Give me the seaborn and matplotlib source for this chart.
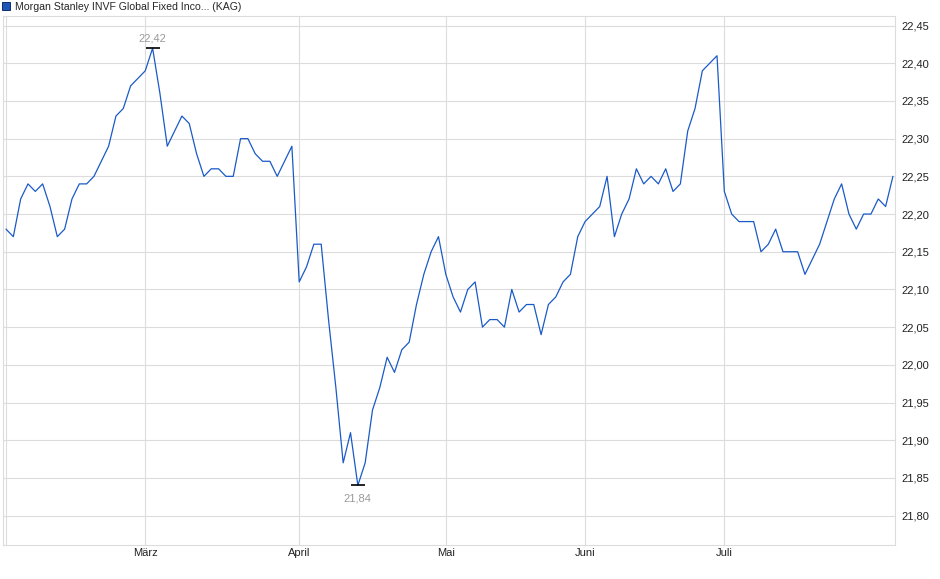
import numpy as np
import pandas as pd
import matplotlib.pyplot as plt
import seaborn as sns
from matplotlib.patches import Patch

# Fund price series (trading days, Feb - Jul)
fund_name = "Morgan Stanley INVF Global Fixed Inco... (KAG)"
prices = [
    22.18, 22.17, 22.22, 22.24, 22.23, 22.24, 22.21, 22.17, 22.18, 22.22,
    22.24, 22.24, 22.25, 22.27, 22.29, 22.33, 22.34, 22.37, 22.38, 22.39,
    22.42, 22.36, 22.29, 22.31, 22.33, 22.32, 22.28, 22.25, 22.26, 22.26,
    22.25, 22.25, 22.30, 22.30, 22.28, 22.27, 22.27, 22.25, 22.27, 22.29,
    22.11, 22.13, 22.16, 22.16, 22.06, 21.97, 21.87, 21.91, 21.84, 21.87,
    21.94, 21.97, 22.01, 21.99, 22.02, 22.03, 22.08, 22.12, 22.15, 22.17,
    22.12, 22.09, 22.07, 22.10, 22.11, 22.05, 22.06, 22.06, 22.05, 22.10,
    22.07, 22.08, 22.08, 22.04, 22.08, 22.09, 22.11, 22.12, 22.17, 22.19,
    22.20, 22.21, 22.25, 22.17, 22.20, 22.22, 22.26, 22.24, 22.25, 22.24,
    22.26, 22.23, 22.24, 22.31, 22.34, 22.39, 22.40, 22.41, 22.23, 22.20,
    22.19, 22.19, 22.19, 22.15, 22.16, 22.18, 22.15, 22.15, 22.15, 22.12,
    22.14, 22.16, 22.19, 22.22, 22.24, 22.20, 22.18, 22.20, 22.20, 22.22,
    22.21, 22.25,
]
month_labels = ["März", "April", "Mai", "Juni", "Juli"]
month_start_idx = [19, 40, 60, 79, 98]
y_ticks = [21.80, 21.85, 21.90, 21.95, 22.00, 22.05, 22.10,
           22.15, 22.20, 22.25, 22.30, 22.35, 22.40, 22.45]

LINE = "#1a5ac8"
GRID = "#dcdcdc"
TEXT = "#222222"

df = pd.DataFrame({"idx": range(len(prices)), "price": prices})

sns.set_style("white")
plt.rcParams["font.family"] = ["Liberation Sans", "DejaVu Sans"]

fig = plt.figure(figsize=(9.4, 5.79), dpi=100)
ax = fig.add_axes([2.7 / 940, 1 - 545 / 579, 892.8 / 940, 529 / 579])

sns.lineplot(data=df, x="idx", y="price", color=LINE, linewidth=0.9, ax=ax)

# high / low markers with labels
imax = int(np.argmax(prices))
imin = int(np.argmin(prices))
for i, off, va in [(imax, 3.5, "bottom"), (imin, -6, "top")]:
    ax.plot(i, prices[i], marker="_", ms=10, mew=1.2, color="black")
    ax.annotate(f"{prices[i]:.2f}".replace(".", ","), (i, prices[i]),
                xytext=(0, off), textcoords="offset points",
                ha="center", va=va, fontsize=8, color="#9a9a9a")

ax.set_xlim(-0.45, 121.35)
ax.set_ylim(21.761, 22.4627)
ax.set_xticks(month_start_idx)
ax.set_xticklabels(month_labels)
ax.set_yticks(y_ticks)
ax.set_yticklabels([f"{t:.2f}".replace(".", ",") for t in y_ticks])
ax.yaxis.tick_right()
ax.tick_params(axis="y", length=0, pad=4.5, labelsize=8, labelcolor=TEXT)
ax.tick_params(axis="x", length=0, pad=2.5, labelsize=8, labelcolor=TEXT)
ax.set_xlabel("")
ax.set_ylabel("")

ax.grid(True, color=GRID, linewidth=0.8)
ax.axvline(0, color=GRID, linewidth=0.8, zorder=0)
ax.set_axisbelow(True)
for s in ax.spines.values():
    s.set_color(GRID)
    s.set_linewidth(0.8)

fig.legend(handles=[Patch(facecolor="#1f55b5", edgecolor="#0d2d6b",
                          linewidth=0.7, label=fund_name)],
           loc="upper left", bbox_to_anchor=(0.0, 1.0), frameon=False,
           fontsize=7.6, handlelength=0.8, handleheight=0.8,
           handletextpad=0.45, borderpad=0.15, borderaxespad=0.0)

fig.savefig("out.png", dpi=100)
